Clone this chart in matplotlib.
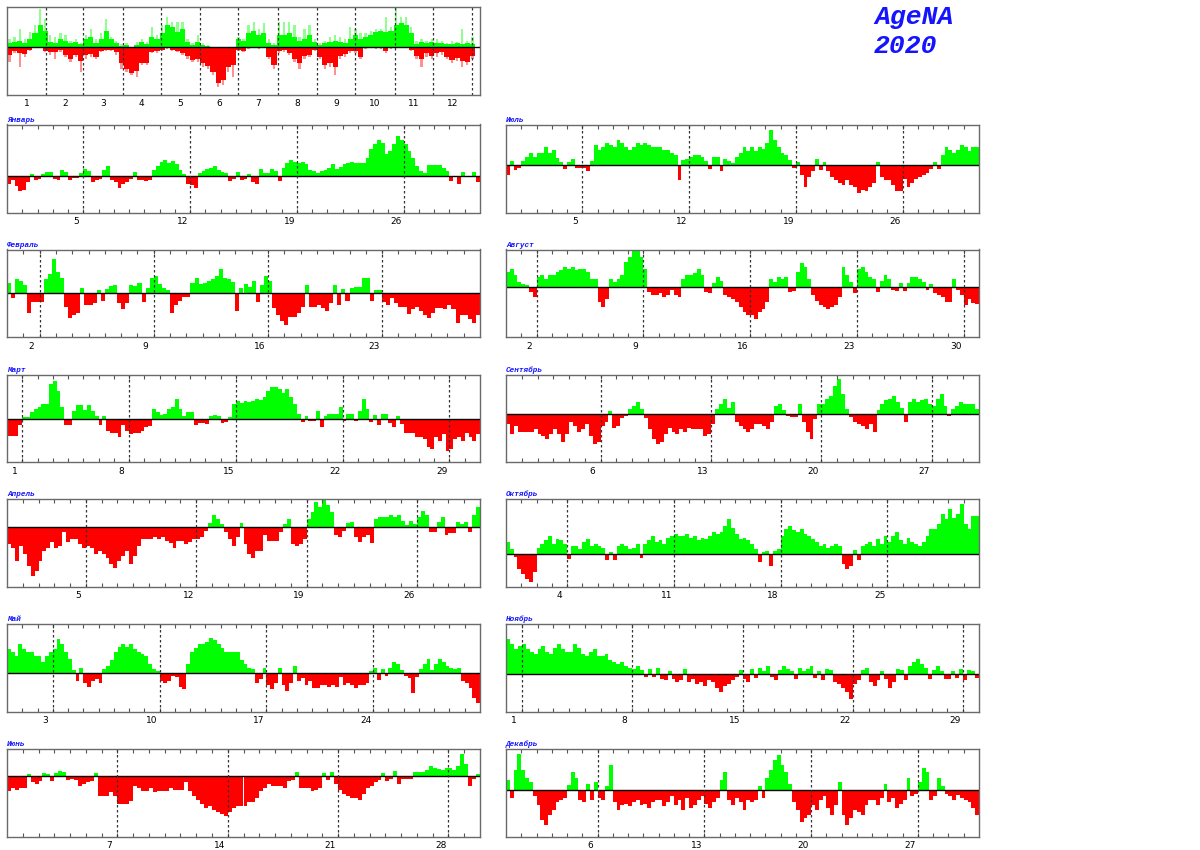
import numpy as np
import matplotlib.pyplot as plt

## Data: bar heights in reference pixel units (positive = up/green, negative = down/red)
## monthly panels: 4 values per day (6 hour steps)
jan = [-8,-4,-10,-15, -14,-6,2,-4, -3,2,4,4, -3,-4,6,4, -4,-2,-2,3, 7,5,-6,-4, -3,6,10,-4,
       -6,-12,-8,-6, -3,4,-4,-4, -5,-4,6,10, 14,16,13,15, 12,6,2,-8, -9,-12,3,5, 7,8,10,6,
       4,3,-5,-3, 4,-4,-3,2, -6,-8,7,3, 3,7,5,-5, 8,13,16,14, 13,14,12,6, 5,3,5,6,
       8,12,7,9, 12,13,14,13, 13,13,18,27, 32,36,33,22, 25,32,40,36, 32,25,18,10, 5,3,11,11,
       11,11,8,5, -5,0,-8,4, 0,0,4,-6]
feb = [10,-5,14,12, 8,-20,-9,-9, -9,14,20,35, 22,15,-14,-25, -22,-20,5,-12, -12,-10,3,-8, 4,7,8,-10,
       -16,-10,8,7, 10,-9,5,15, 18,9,5,3, -20,-12,-8,-4, -4,10,15,9, 10,12,14,18, 25,15,14,11,
       -18,5,9,6, 12,-9,8,18, 12,-15,-22,-28, -32,-24,-24,-20, -14,8,-14,-14, -12,-15,-18,-10, 8,-12,4,-8,
       5,6,6,15, 15,-8,3,3, -9,-12,-5,-10, -14,-14,-21,-16, -14,-18,-22,-25, -20,-15,-15,-16, -12,-16,-30,-22,
       -22,-26,-30,-22]
mar = [-17,-17,-17,-6, 2,2,7,10, 12,15,15,35, 38,28,12,-6, -6,8,14,14, 9,14,8,3, -6,3,-12,-14,
       -14,-18,-6,-12, -15,-14,-14,-12, -8,-7,10,7, 4,5,10,12, 20,10,3,7, 7,-6,-4,-4, -5,3,4,3,
       -4,-3,2,15, 18,16,18,17, 18,20,19,22, 28,32,32,30, 26,30,22,15, 5,-3,3,-2, -2,8,-8,3,
       5,5,5,12, -2,5,5,-2, 8,20,10,-3, 4,-6,5,5, -4,-8,3,-5, -14,-14,-14,-18, -18,-20,-28,-30,
       -18,-22,-15,-32, -30,-20,-18,-22, -14,-18,-22,-15]
apr = [-18,-22,-35,-20, -28,-40,-50,-45, -35,-25,-22,-15, -22,-20,-5,-15, -12,-12,-18,-22, -20,-22,-28,-25, -28,-32,-38,-42,
       -35,-30,-25,-38, -30,-20,-12,-12, -12,-10,-12,-10, -14,-16,-22,-14, -14,-18,-15,-12, -12,-10,-4,4, 12,8,3,-5,
       -12,-20,-10,4, -18,-28,-32,-25, -25,-8,-14,-14, -14,-5,3,8, -18,-20,-18,-12, 8,15,25,20, 27,22,15,-8,
       -10,-4,4,5, -10,-15,-10,-8, -17,8,10,10, 10,12,10,12, 6,2,6,3, 10,16,12,-5, -5,5,10,-8,
       -6,-6,5,3, 5,-5,12,20]
may = [25,22,18,30, 25,22,22,18, 18,12,18,22, 25,35,30,22, 15,3,-8,6, -10,-14,-8,-6, -10,4,8,14,
       22,27,30,27, 30,25,22,20, 18,10,4,2, -8,-10,-8,-3, -4,-14,-16,10, 22,26,30,30, 32,36,34,30,
       26,22,22,22, 22,14,10,6, 4,-10,-6,5, -12,-16,-10,5, -12,-18,-10,8, -8,-5,-12,-8, -15,-15,-12,-12,
       -14,-12,-14,-4, -12,-10,-12,-15, -12,-12,-10,2, 6,-7,4,-3, 6,12,10,3, -3,-5,-20,-4, 4,10,15,3,
       10,15,12,8, 6,4,6,-8, -10,-15,-25,-30]
jun = [-15,-12,-14,-12, -12,2,-6,-8, -5,3,2,-5, 3,5,4,-4, -3,-4,-10,-8, -6,-5,3,-20, -20,-20,-16,-20,
       -28,-28,-28,-25, -10,-12,-15,-15, -12,-16,-15,-15, -15,-12,-14,-14, -14,-6,-15,-20, -24,-28,-32,-30, -34,-36,-38,-40,
       -36,-32,-30,-30, -30,-26,-26,-22, -15,-12,-8,-10, -10,-10,-12,-5, -4,4,-12,-12, -12,-15,-14,-12, 3,-4,4,-8,
       -14,-18,-20,-22, -22,-24,-18,-12, -10,-6,-4,3, -5,-3,5,-8, -3,-3,-3,4, 4,4,6,10, 8,7,6,8,
       8,6,10,22, 12,-10,-3,2]
jul = [-10,4,-5,-3, 4,8,12,8, 12,12,18,12, 15,7,3,-4, 3,6,-3,-3, -3,-6,4,20, 15,18,22,20,
       18,25,22,18, 15,18,22,20, 22,20,18,18, 18,15,15,12, 10,-15,5,6, 8,10,10,8, 4,-4,8,8,
       -6,6,4,2, 8,12,18,14, 18,14,18,16, 22,35,25,18, 12,10,5,-3, 3,-10,-22,-12, -6,6,-5,3,
       -6,-12,-15,-18, -20,-15,-20,-22, -28,-25,-26,-22, -18,3,-12,-15, -15,-20,-26,-26, -14,-22,-18,-14, -12,-10,-8,-4,
       3,-4,10,18, 15,12,15,20, 18,14,18,18]
aug = [15,18,12,5, 3,2,-5,-10, 10,12,8,12, 12,15,17,20, 18,20,17,18, 18,15,8,8, -15,-20,-12,8,
       5,8,12,25, 30,36,37,30, 18,-5,-8,-8, -6,-10,-8,-3, -8,-10,8,12, 12,14,18,12, -5,-6,4,10,
       6,-8,-10,-12, -15,-20,-25,-28, -28,-32,-25,-22, -15,8,5,10, 8,10,-5,-4, 15,24,20,8, -8,-14,-18,-20,
       -22,-20,-18,-10, 20,12,5,-6, 18,20,15,10, 8,-5,6,12, 8,-3,-4,4, -4,4,10,10, 8,5,-3,3,
       -6,-8,-10,-15, -15,8,-3,-8, -18,-12,-16,-17]
sep = [-10,-20,-12,-18, -18,-18,-18,-15, -20,-22,-25,-20, -15,-20,-28,-20, -8,-12,-18,-15, -10,-22,-30,-28, -12,-8,3,-14,
       -12,-4,-2,5, 8,12,5,-4, -15,-25,-30,-28, -20,-14,-18,-20, -15,-18,-14,-15, -15,-15,-22,-20, -10,5,10,15,
       6,12,-8,-12, -15,-18,-15,-10, -10,-12,-15,-8, 8,10,4,-2, -3,-3,10,-8, -18,-25,-5,10, 10,15,18,28,
       35,20,5,-3, -8,-10,-12,-15, -10,-18,4,10, 14,15,18,12, 6,-8,12,15, 12,14,15,10, 8,15,20,8,
       -2,5,8,12, 10,10,10,5]
oct = [12,5,-3,-15, -20,-25,-28,-18, 6,10,14,18, 10,15,14,10, -5,8,8,5, 12,15,8,10, 8,6,-6,2,
       -6,8,10,8, 5,6,10,-4, 10,14,18,12, 14,10,16,18, 20,18,18,20, 16,18,14,16, 15,18,22,20,
       22,28,35,26, 20,15,16,14, 10,5,-8,2, 3,-12,3,5, 18,25,28,24, 22,25,20,18, 15,12,8,10,
       6,8,10,8, -10,-15,-12,4, -6,8,10,12, 8,15,10,18, 12,18,22,14, 10,16,12,10, 8,12,18,25,
       25,30,40,35, 45,36,40,50, 30,25,38,38]
nov = [35,30,25,28, 30,25,22,20, 25,28,22,20, 26,30,25,22, 22,30,26,20, 18,22,25,18, 18,20,14,12,
       10,12,8,6, 5,8,4,-3, 5,-3,6,-5, -6,3,-5,-8, -6,5,-8,-5, -10,-8,-12,-6, -8,-14,-18,-12,
       -10,-6,-3,4, -5,-8,5,-4, 6,3,8,-3, -6,4,8,5, 3,-5,6,3, 5,8,-4,3, -6,5,4,-8,
       -10,-14,-18,-25, -10,-6,4,6, -8,-12,-6,3, -5,-14,-8,5, 4,-6,8,12, 15,10,6,-5, 4,8,3,-5,
       -5,3,-4,5, -6,4,3,-4]
dec = [10,-8,20,36, 20,12,8,-6, -15,-30,-35,-25, -20,-12,-10,-8, 5,18,12,-10, -12,6,-10,8, -8,-10,4,25,
       -12,-20,-15,-14, -16,-12,-10,-15, -14,-18,-12,-10, -10,-16,-12,-6, -15,-10,-20,-8, -18,-15,-10,-6, -14,-18,-12,-8,
       10,18,-10,-15, -8,-12,-20,-10, -12,-10,4,-8, 12,20,30,35, 25,18,6,-12, -20,-32,-28,-25, -15,-20,-10,-6,
       -18,-25,-15,8, -25,-35,-28,-20, -22,-25,-15,-10, -10,-15,-8,6, -12,-8,-18,-14, -10,12,-6,-4, 8,22,18,-10,
       -6,12,4,-4, -6,-10,-5,-8, -10,-12,-18,-25]

month_names = ['Январь', 'Февраль', 'Март', 'Апрель', 'Май', 'Июнь',
               'Июль', 'Август', 'Сентябрь', 'Октябрь', 'Ноябрь', 'Декабрь']
month_days = [31, 29, 31, 30, 31, 30, 31, 31, 30, 31, 30, 31]
first_sunday = [5, 2, 1, 5, 3, 7, 5, 2, 6, 4, 1, 6]
y_up = [51.3, 44.3, 45.0, 27.7, 49.7, 26.7, 40.3, 37.6, 39.0, 55.4, 50.0, 41.0]
y_down = [36.7, 44.7, 43.7, 60.7, 38.7, 61.3, 47.0, 50.4, 48.4, 33.0, 38.0, 47.0]
months = [jan, feb, mar, apr, may, jun, jul, aug, sep, oct, nov, dec]

## year panel: 4-day blocks, dark (mean) and light (extreme) bars
year_pos = [4,5,6,4,8,14,22,16, 5,4,8,6,4,5,3,8, 10,4,8,16,8,4,1, 2,0,2,5,3,10,8,
            14,22,20,15,18,5,2,5, 2,1,0,0,0,0,0,8, 6,14,16,12,14,4,2,12,
            12,14,10,6,8,12,5, 2,4,5,6,5,4,8,12, 8,10,12,15,16,15,16,22,
            24,22,14,3,5,4,5, 4,4,3,3,4,3,4,3]
year_neg = [-8,-4,-6,-7,-3,0,0,-4, -5,-5,-3,-8,-12,-8,-14,-8, -7,-10,-4,-3,-3,-5,-16, -22,-26,-24,-16,-16,-5,-4,
            -3,-1,-3,-4,-6,-9,-13,-12, -16,-19,-25,-36,-33,-20,-18,-3, -4,-1,0,-1,0,-10,-18,-4,
            -3,-6,-12,-16,-9,-8,-3, -10,-18,-16,-20,-9,-7,-4,-4, -10,-1,0,-1,-1,-4,-1,0,
            0,0,-3,-9,-12,-6,-9, -6,-5,-10,-13,-11,-14,-15,-9]
year_pos_hi = [8,10,18,8,15,22,38,28, 12,10,14,12,6,8,4,12, 18,8,14,28,10,6,3, 4,0,5,8,5,20,12,
               22,30,25,25,25,8,4,12, 4,2,0,0,0,0,0,10, 8,22,25,18,24,8,4,25,
               25,25,22,10,18,22,8, 4,6,10,12,10,8,20,18, 14,14,16,18,18,30,20,40,
               30,30,20,6,8,6,8, 8,6,4,6,5,18,6,10]
year_neg_lo = [-15,-6,-20,-10,-4,0,0,-5, -8,-12,-5,-10,-15,-10,-25,-12, -10,-12,-5,-4,-4,-8,-22, -25,-28,-30,-18,-18,-6,-6,
               -4,-2,-4,-5,-8,-12,-15,-15, -20,-22,-28,-40,-38,-25,-30,-4, -5,-2,0,-2,0,-12,-22,-6,
               -5,-8,-15,-22,-12,-10,-4, -12,-22,-20,-28,-12,-10,-6,-6, -12,-2,0,-2,-2,-6,-2,0,
               0,0,-4,-12,-20,-10,-12, -10,-8,-12,-16,-14,-20,-18,-12]

GREEN = '#00ff00'
RED = '#ff0000'
LGREEN = '#90ff90'
LRED = '#ff9090'
BLUE = '#1414ff'
FRAME = '#6a6a6a'
W, H = 1200, 850

fig = plt.figure(figsize=(12, 8.5), dpi=100)


def add_ax(x0, y0, x1, y1):
    return fig.add_axes([x0 / W, 1 - y1 / H, (x1 - x0) / W, (y1 - y0) / H])


def style_frame(ax):
    for s in ax.spines.values():
        s.set_color(FRAME)
        s.set_linewidth(1)
    ax.set_yticks([])


# year panel
ax = add_ax(7, 7, 480, 95)
xb = np.arange(len(year_pos)) * 4
ax.bar(xb + 2, year_pos_hi, width=1.8, color=LGREEN, linewidth=0)
ax.bar(xb + 2, year_neg_lo, width=1.8, color=LRED, linewidth=0)
ax.bar(xb, year_pos, width=4, align='edge', color=GREEN, linewidth=0)
ax.bar(xb, year_neg, width=4, align='edge', color=RED, linewidth=0)
ax.axhline(0, color='black', lw=1)
ends = np.cumsum(month_days)
for e in ends:
    ax.axvline(e, color='#333333', lw=0.9, ls=(0, (2, 2)))
ax.set_xlim(0, 372)
ax.set_ylim(-48, 40)
starts = ends - np.array(month_days)
ax.set_xticks(starts + np.array(month_days) / 2)
ax.set_xticklabels([str(i + 1) for i in range(12)])
ax.tick_params(axis='x', length=0, labelsize=6.5, pad=3)
style_frame(ax)

# title
fig.text(874 / W, 1 - 17 / H, 'AgeNA', fontsize=19, family='Liberation Mono',
         weight='bold', style='italic', color=BLUE, va='center', ha='left')
fig.text(874 / W, 1 - 46 / H, '2020', fontsize=19, family='Liberation Mono',
         weight='bold', style='italic', color=BLUE, va='center', ha='left')

# month panels
row_tops = [124.5, 249.5, 374.5, 499, 624, 749]
for m in range(12):
    col = m // 6
    row = m % 6
    x0 = 7 if col == 0 else 506
    top = row_tops[row]
    ax = add_ax(x0, top, x0 + 473, top + 88)
    nd = month_days[m]
    v = np.array(months[m], dtype=float)
    x = np.arange(len(v)) * 0.25
    colors = np.where(v >= 0, GREEN, RED)
    ax.bar(x, v, width=0.25, align='edge', color=colors, linewidth=0)
    ax.axhline(0, color='black', lw=1)
    sun = first_sunday[m]
    for d in range(sun, nd, 7):
        ax.axvline(d, color='#333333', lw=0.9, ls=(0, (2, 2)))
    ax.set_xlim(0, nd)
    ax.set_ylim(-y_down[m], y_up[m])
    ax.set_xticks(np.arange(1, nd), minor=True)
    lab_days = list(range(sun, nd, 7))
    ax.set_xticks([d - 0.5 for d in lab_days])
    ax.set_xticklabels([str(d) for d in lab_days])
    ax.tick_params(axis='x', which='major', length=0, labelsize=6.5, pad=3)
    ax.tick_params(axis='x', which='minor', direction='in', top=True, bottom=True,
                   length=3, width=0.8, color='#555555')
    style_frame(ax)
    ax.text(0, 1.01, month_names[m], transform=ax.transAxes, color=BLUE,
            fontsize=5.5, family='Liberation Mono', weight='bold', style='italic',
            va='bottom', ha='left')

fig.savefig('out.png', dpi=100)
